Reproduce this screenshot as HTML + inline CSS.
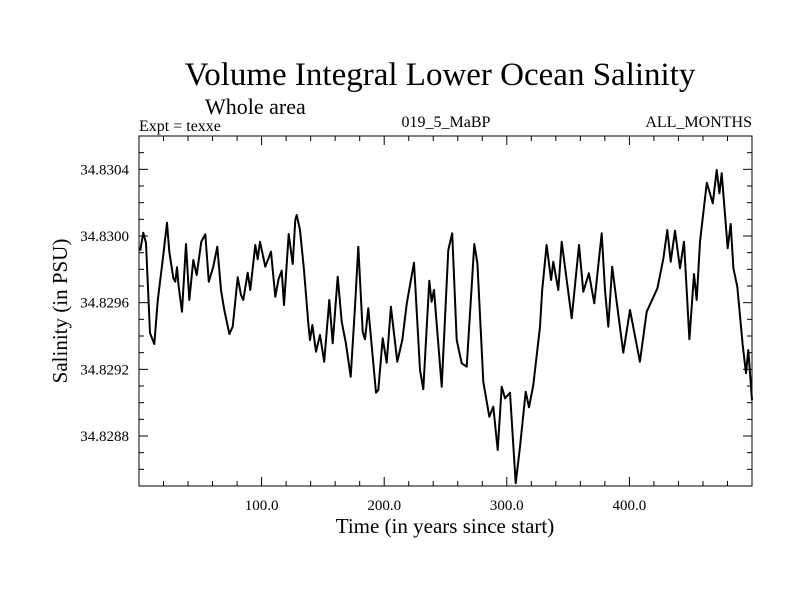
<!DOCTYPE html>
<html><head><meta charset="utf-8"><style>
body{margin:0;background:#fff;}
svg text{font-family:"Liberation Serif",serif;fill:#000;}
</style></head><body>
<svg id="chart" width="800" height="600" xmlns="http://www.w3.org/2000/svg">
<rect width="800" height="600" fill="#fff"/>
<text x="440" y="85" font-size="33" text-anchor="middle">Volume Integral Lower Ocean Salinity</text>
<text x="205" y="114" font-size="22">Whole area</text>
<text x="139" y="131" font-size="16">Expt = texxe</text>
<text x="446" y="127" font-size="16" text-anchor="middle">019_5_MaBP</text>
<text x="752" y="127" font-size="16" text-anchor="end">ALL_MONTHS</text>
<text transform="translate(67,311) rotate(-90)" font-size="21" text-anchor="middle">Salinity (in PSU)</text>
<text x="445" y="533" font-size="21" text-anchor="middle">Time (in years since start)</text>
<g id="axes"></g>
<path id="series" fill="none" stroke="#000" stroke-width="2" stroke-linejoin="round"/>
<rect x="139" y="136" width="613" height="350" fill="none" stroke="#000" stroke-width="1"/>
</svg>
<script>
const years=[1,3.5,5.7,9.0,12.5,15.3,19.3,22.8,24.7,28.0,29.6,31.0,32.4,35.1,38.3,41.0,44.3,47.1,50.8,54.1,56.9,60.6,63.9,66.9,69.6,73.7,76.4,80.5,83.2,85.1,88.7,90.8,94.9,96.8,98.7,103.0,107.7,111.2,113.9,116.4,118.3,122.1,125.4,127.5,128.6,131.3,134.6,138.1,139.5,141.4,144.4,147.6,151.1,155.2,158.0,162.1,165.3,168.8,172.7,176.2,178.9,182.5,184.3,187.0,193.3,195.2,198.8,202.0,205.5,210.7,214.8,218.4,224.3,229.2,231.9,236.8,238.7,240.6,246.9,252.3,255.5,259.1,263.2,267.3,273.5,276.0,280.8,285.7,289.0,292.6,295.8,298.5,302.6,307.3,310.8,315.4,318.1,321.6,327.1,328.9,332.5,336.1,337.9,342.0,344.8,352.9,358.9,362.4,367.0,371.4,377.4,380.1,382.8,386.0,389.1,395.0,400.5,408.6,414.1,422.8,427.7,430.9,433.7,437.2,441.3,444.5,448.9,452.7,454.9,457.6,463.1,468.0,471.2,473.4,475.3,480.2,482.6,484.8,488.0,492.4,495.1,497.0,500];
const salinity=[34.829912,34.830020,34.829958,34.829418,34.829352,34.829616,34.829856,34.830080,34.829906,34.829748,34.829726,34.829812,34.829696,34.829546,34.829952,34.829616,34.829856,34.829766,34.829966,34.830010,34.829726,34.829816,34.829936,34.829676,34.829556,34.829412,34.829456,34.829752,34.829646,34.829616,34.829780,34.829676,34.829946,34.829860,34.829966,34.829816,34.829906,34.829636,34.829742,34.829792,34.829586,34.830012,34.829832,34.830096,34.830126,34.830036,34.829796,34.829476,34.829376,34.829466,34.829306,34.829406,34.829246,34.829616,34.829356,34.829756,34.829486,34.829356,34.829156,34.829576,34.829936,34.829426,34.829380,34.829566,34.829060,34.829076,34.829386,34.829240,34.829576,34.829246,34.829376,34.829596,34.829840,34.829196,34.829080,34.829732,34.829606,34.829676,34.829096,34.829916,34.830016,34.829376,34.829236,34.829216,34.829952,34.829836,34.829126,34.828916,34.828976,34.828716,34.829096,34.829026,34.829060,34.828516,34.828736,34.829066,34.828972,34.829106,34.829456,34.829676,34.829946,34.829736,34.829846,34.829676,34.829966,34.829506,34.829946,34.829666,34.829776,34.829596,34.830016,34.829676,34.829456,34.829816,34.829636,34.829300,34.829556,34.829246,34.829546,34.829686,34.829866,34.830036,34.829846,34.830032,34.829806,34.829966,34.829380,34.829772,34.829616,34.829966,34.830320,34.830196,34.830396,34.830256,34.830376,34.829926,34.830072,34.829806,34.829696,34.829346,34.829176,34.829316,34.829016];
const xTickLabels=["100.0","200.0","300.0","400.0"];
const xTickValues=[100,200,300,400];
const yTickLabels=["34.8288","34.8292","34.8296","34.8300","34.8304"];
const yTickValues=[34.8288,34.8292,34.8296,34.8300,34.8304];
const X0=139,X1=752,Y0=486,Y1=136,XMIN=0,XMAX=500,YMIN=34.8285,YMAX=34.8306;
function xs(v){return X0+(v-XMIN)/(XMAX-XMIN)*(X1-X0);}
function ys(v){return Y0-(v-YMIN)/(YMAX-YMIN)*(Y0-Y1);}
const NS="http://www.w3.org/2000/svg";
const g=document.getElementById('axes');
function line(x1,y1,x2,y2,name){const l=document.createElementNS(NS,'line');l.setAttribute('x1',x1);l.setAttribute('y1',y1);l.setAttribute('x2',x2);l.setAttribute('y2',y2);l.setAttribute('stroke','#000');l.setAttribute('stroke-width','1');


g.appendChild(l);}
for(let v=20;v<500;v+=20){const major=v%100===0;const L=major?9:5;const x=xs(v);line(x,Y0,x,Y0-L,'x-tick');line(x,Y1,x,Y1+L,'x-tick-top');}
for(let k=0;k<=21;k++){const v=YMIN+k*0.0001;const major=Math.abs(((v-34.8288)/0.0004)-Math.round((v-34.8288)/0.0004))<1e-6;const L=major?9:5;const y=ys(v);if(y<=Y1+0.5||y>=Y0-0.5)continue;line(X0,y,X0+L,y,'y-tick');line(X1,y,X1-L,y,'y-tick-right');}
xTickValues.forEach((v,i)=>{const t=document.createElementNS(NS,'text');t.setAttribute('x',xs(v));t.setAttribute('y',510);t.setAttribute('font-size','15');t.setAttribute('text-anchor','middle');t.textContent=xTickLabels[i];


g.appendChild(t);});
yTickValues.forEach((v,i)=>{const t=document.createElementNS(NS,'text');t.setAttribute('x',129);t.setAttribute('y',ys(v)+5);t.setAttribute('font-size','15');t.setAttribute('text-anchor','end');t.textContent=yTickLabels[i];


g.appendChild(t);});
let d='';years.forEach((yr,i)=>{d+=(i?'L':'M')+xs(yr).toFixed(1)+' '+ys(salinity[i]).toFixed(1);});
document.getElementById('series').setAttribute('d',d);
</script>
</body></html>
